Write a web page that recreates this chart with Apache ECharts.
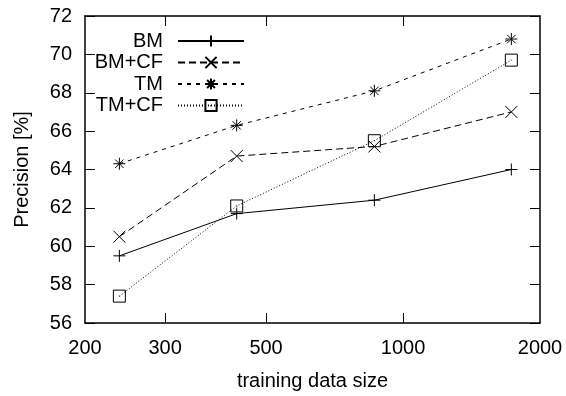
<!DOCTYPE html>
<html>
<head>
<meta charset="utf-8">
<script src="https://cdn.jsdelivr.net/npm/echarts@6/dist/echarts.min.js"></script>
<style>
  html, body { margin: 0; padding: 0; background: #fff; }
  #chart { width: 566px; height: 396px; }
</style>
</head>
<body>
<div id="chart"></div>
<script>
// training data sizes (x, log scale)
const sizes = [238, 431, 865, 1730]
const bm = [59.5, 61.7, 62.4, 64.0]
const bmCf = [60.5, 64.7, 65.2, 67.0]
const tm = [64.3, 66.3, 68.1, 70.8]
const tmCf = [57.4, 62.1, 65.5, 69.7]

const xTickLabels = [200, 300, 500, 1000, 2000]
const xInnerTicks = [300, 500, 1000]
const seriesNames = ['BM', 'BM+CF', 'TM', 'TM+CF']

const FONT = 'Liberation Sans'
const BLACK = '#000'

const pairs = (ys) => sizes.map((x, i) => [x, ys[i]])

// marker shapes, drawn as strokes
const SYM_PLUS = 'path://M6,0 L6,12 M0,6 L12,6'
const SYM_CROSS = 'path://M0,0 L12,12 M12,0 L0,12'
const SYM_STAR = 'path://M6,0 L6,12 M0,6 L12,6 M1.8,1.8 L10.2,10.2 M10.2,1.8 L1.8,10.2'
const SYM_BOX = 'path://M0,0 L12,0 L12,12 L0,12 Z M5.6,5.6 L6.4,6.4'

const chart = echarts.init(document.getElementById('chart'))

const axisLine = { show: true, lineStyle: { color: BLACK, width: 1.5 } }
const tickStyle = { inside: true, length: 10, lineStyle: { color: BLACK, width: 1 } }

function makeSeries(name, ys, symbol, dash, size) {
    return {
        name,
        type: 'line',
        data: pairs(ys),
        xAxisIndex: 0,
        yAxisIndex: 0,
        symbol,
        symbolSize: size,
        lineStyle: { color: BLACK, width: 1, type: dash },
        itemStyle: { color: 'transparent', borderColor: BLACK, borderWidth: 1 },
        emphasis: { disabled: true },
    }
}

const legendRows = [31, 52.5, 74, 95.5]

const option = {
    animation: false,
    textStyle: { fontFamily: FONT },
    grid: { left: 85, right: 26, top: 16, bottom: 68, containLabel: false },
    legend: seriesNames.map((name, i) => ({
        data: [name],
        right: 321,
        top: legendRows[i],
        padding: 0,
        align: 'right',
        itemWidth: 66,
        itemHeight: 14,
        selectedMode: false,
        textStyle: { fontFamily: FONT, fontSize: 20, color: BLACK, padding: [0, 10, 0, 0] },
    })),
    xAxis: [
        {
            type: 'log',
            logBase: 10,
            min: 200,
            max: 2000,
            name: 'training data size',
            nameLocation: 'middle',
            nameGap: 48,
            nameTextStyle: { fontFamily: FONT, fontSize: 20, color: BLACK },
            axisLine,
            axisTick: { ...tickStyle, customValues: xInnerTicks },
            minorTick: { show: false },
            axisLabel: {
                customValues: xTickLabels,
                formatter: (v) => String(Math.round(v)),
                margin: 15,
                fontFamily: FONT,
                fontSize: 20,
                color: BLACK,
            },
            splitLine: { show: false },
        },
        {
            type: 'log',
            logBase: 10,
            min: 200,
            max: 2000,
            position: 'top',
            axisLine,
            axisTick: { ...tickStyle, customValues: xInnerTicks },
            minorTick: { show: false },
            axisLabel: { show: false },
            splitLine: { show: false },
        },
    ],
    yAxis: [
        {
            type: 'value',
            min: 56,
            max: 72,
            interval: 2,
            name: 'Precision [%]',
            nameLocation: 'middle',
            nameGap: 53,
            nameTextStyle: { fontFamily: FONT, fontSize: 20, color: BLACK },
            axisLine,
            axisTick: tickStyle,
            axisLabel: { margin: 13, fontFamily: FONT, fontSize: 20, color: BLACK },
            splitLine: { show: false },
        },
        {
            type: 'value',
            min: 56,
            max: 72,
            interval: 2,
            position: 'right',
            axisLine,
            axisTick: tickStyle,
            axisLabel: { show: false },
            splitLine: { show: false },
        },
    ],
    series: [
        makeSeries('BM', bm, SYM_PLUS, 'solid', 12),
        makeSeries('BM+CF', bmCf, SYM_CROSS, [7, 4], 12),
        makeSeries('TM', tm, SYM_STAR, [4, 5], 12),
        makeSeries('TM+CF', tmCf, SYM_BOX, [1, 2], 12),
    ],
}

chart.setOption(option)
</script>
</body>
</html>
